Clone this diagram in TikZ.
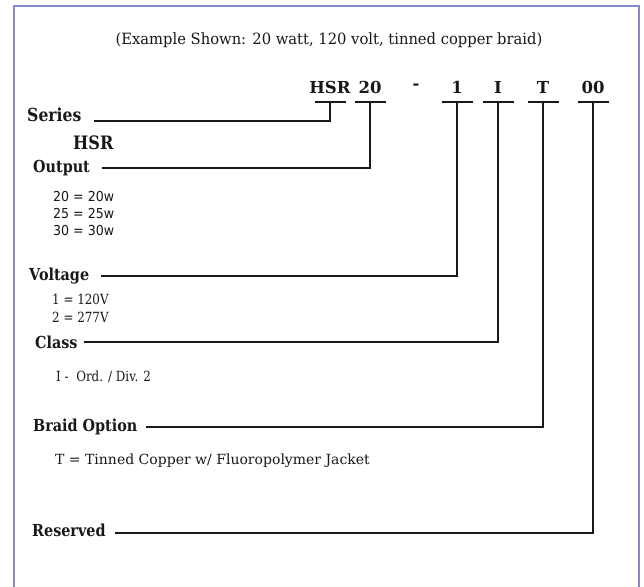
\documentclass[tikz,border=0pt]{standalone}
\usepackage{fontspec}
\setmainfont{DejaVu Serif}
\newfontfamily\narrowserif[FakeStretch=0.87]{DejaVu Serif}
\newfontfamily\slimserif[FakeStretch=0.85]{DejaVu Serif}
\newfontfamily\titleserif[FakeStretch=0.95]{DejaVu Serif}
\newfontfamily\optsans[FakeStretch=0.92]{DejaVu Sans}
\usepackage{xcolor}
\usepackage{tikz}
\usetikzlibrary{positioning,calc}
\definecolor{framecol}{RGB}{136,136,204}
\definecolor{inkcol}{RGB}{24,24,24}

\begin{document}
\begin{tikzpicture}[x=1pt,y=-1pt,
    codechar/.style={inner sep=0pt, font=\bfseries\fontsize{16.5}{18}\selectfont, text=inkcol},
    field/.style={anchor=west, inner sep=0pt, font=\narrowserif\bfseries\fontsize{16.5}{18}\selectfont, text=inkcol},
    opt/.style={anchor=west, inner sep=0pt, align=left, font=\fontsize{14}{18}\selectfont, text=inkcol},
    lead/.style={draw=inkcol, line width=1.8pt}]
    \useasboundingbox (0,0) rectangle (644,586);
    \fill[white] (0,0) rectangle (644,586);
    \draw[framecol, line width=1.4pt] (14,592) -- (14,6) -- (639,6) -- (639,592);
    \node[inner sep=0pt, font=\titleserif\fontsize{15.5}{17}\selectfont, text=inkcol] (title) at (329,40) {(Example Shown: 20 watt, 120 volt, tinned copper braid)};
    % part number with its tee marks
    \foreach \nm/\x/\txt in {hsr/330/HSR, out/370/20, volt/457/1, cls/498/I, braid/543/T, res/593/00} {
        \node[codechar] (\nm) at (\x,87) {\txt};
        \coordinate (\nm-t) at ([yshift=-15pt]\nm.center);
        \draw[lead] ([xshift=-15.5pt]\nm-t) -- ([xshift=15.5pt]\nm-t);
    }
    \node[codechar] (dash) at (416,87) {-};
    % fields on the left
    \node[field] (lseries) at (27,115) {\fontsize{18}{20}\selectfont Series};
    \node[field] (hsrname) at (73,143) {\fontsize{18.5}{20}\selectfont HSR};
    \node[field] (loutput) at (33,168) {Output};
    \node[opt, font=\optsans\fontsize{13.7}{17}\selectfont] (outopts) at (53,214) {20 = 20w\\25 = 25w\\30 = 30w};
    \node[field] (lvoltage) at (29,276) {Voltage};
    \node[opt, font=\slimserif\fontsize{14}{18}\selectfont] (voltopts) at (52,308) {1 = 120V\\2 = 277V};
    \node[field] (lclass) at (35,342) {Class};
    \node[opt, font=\slimserif\fontsize{14}{18}\selectfont] (clsopts) at (56,377) {I -\ \ Ord. / Div. 2};
    \node[field] (lbraid) at (33,427) {Braid Option};
    \node[opt] (braidopts) at (55,461) {T = Tinned Copper w/ Fluoropolymer Jacket};
    \node[field] (lreserved) at (32,530) {Reserved};
    % leaders
    \draw[lead] ([xshift=12pt,yshift=-6pt]lseries.east) -| (hsr-t);
    \draw[lead] ([xshift=12pt]loutput.east) -| (out-t);
    \draw[lead] ([xshift=12pt]lvoltage.east) -| (volt-t);
    \draw[lead] ([xshift=6pt]lclass.east) -| (cls-t);
    \draw[lead] ([xshift=8pt]lbraid.east) -| (braid-t);
    \draw[lead] ([xshift=9pt,yshift=-3pt]lreserved.east) -| (res-t);
\end{tikzpicture}
\end{document}
